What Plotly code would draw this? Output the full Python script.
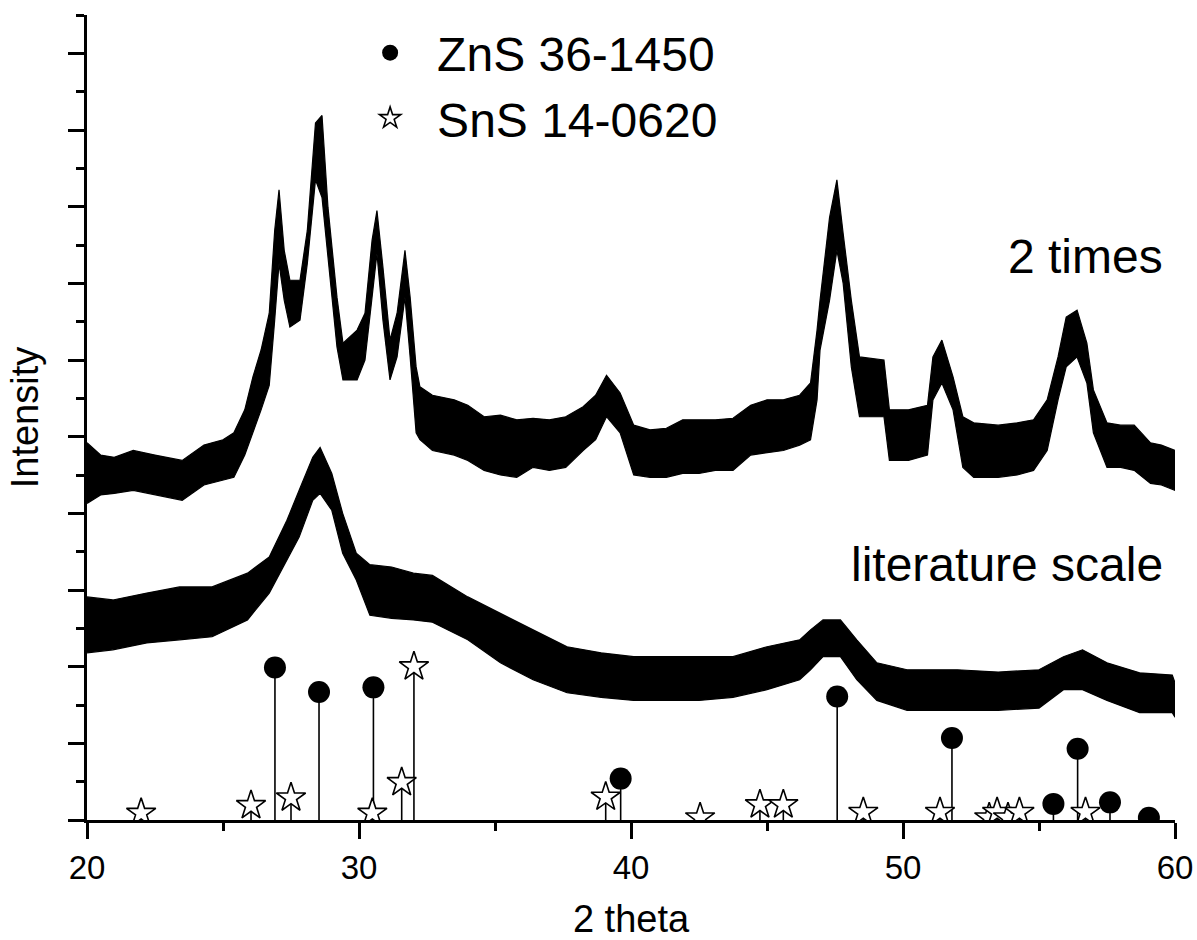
import plotly.graph_objects as go

# ---------------- data (intensity in arbitrary counts) ----------------
# "2 times" pattern: upper / lower edge of the noisy band
two_x = [20.0, 20.5, 21.0, 21.7, 22.5, 23.5, 24.3, 25.0, 25.4, 25.8, 26.1, 26.4, 26.7, 26.9,
         27.06, 27.25, 27.46, 27.83, 28.1, 28.4, 28.64, 28.86, 29.19, 29.41, 29.93, 30.22,
         30.48, 30.66, 30.88, 31.14, 31.4, 31.69, 31.88, 32.1, 32.24, 32.7, 33.5, 34.0, 34.6,
         35.2, 35.8, 36.4, 37.0, 37.6, 38.24, 38.7, 39.1, 39.6, 40.1, 40.7, 41.3, 41.9, 42.5,
         43.1, 43.75, 44.4, 45.0, 45.6, 46.2, 46.6, 46.84, 46.95, 47.3, 47.57, 47.8, 48.1,
         48.4, 49.3, 49.5, 50.2, 50.9, 51.1, 51.43, 51.84, 52.2, 52.6, 53.5, 54.2, 54.8, 55.3,
         55.7, 56.0, 56.4, 56.76, 57.0, 57.5, 58.0, 58.5, 59.1, 59.5, 60.0]
two_hi = [492, 476, 473, 482, 476, 469, 489, 496, 505, 535, 578, 613, 661, 769,
          822, 743, 704, 704, 769, 909, 919, 799, 682, 622, 639, 661,
          756, 795, 721, 626, 661, 743, 682, 591, 565, 554, 548, 541, 526,
          528, 522, 524, 522, 526, 539, 554, 580, 557, 515, 509, 511, 522, 522,
          522, 524, 541, 548, 548, 554, 570, 639, 678, 786, 835, 765, 678,
          604, 600, 535, 535, 541, 604, 626, 578, 526, 518, 515, 518, 522, 548,
          604, 656, 665, 622, 561, 518, 515, 515, 492, 489, 482]
two_lo = [413, 424, 426, 430, 424, 417, 437, 443, 447, 476, 505, 535, 567, 652,
          726, 678, 643, 652, 726, 835, 812, 739, 617, 574, 574, 600,
          682, 739, 652, 574, 604, 682, 604, 505, 496, 482, 476, 469, 456,
          450, 447, 460, 456, 460, 482, 496, 526, 505, 450, 447, 447, 452, 452,
          456, 456, 476, 479, 482, 489, 496, 548, 613, 678, 743, 700, 591,
          526, 526, 469, 469, 476, 548, 570, 535, 460, 447, 447, 450, 456, 482,
          548, 591, 604, 570, 505, 460, 460, 456, 439, 437, 430]

# "literature scale" pattern: upper / lower edge of the noisy band
lit_x = [20.0, 20.95, 22.2, 23.4, 24.6, 25.9, 26.7, 27.35, 27.8, 28.3, 28.57, 29.0, 29.4,
         29.9, 30.4, 31.2, 32.0, 32.7, 34.0, 35.2, 36.4, 37.65, 38.9, 40.1, 41.3, 42.5,
         43.75, 45.0, 46.2, 46.6, 47.06, 47.7, 48.3, 49.04, 50.15, 52.0, 53.5, 55.0, 55.9,
         56.6, 57.5, 58.7, 59.9, 60.0]
lit_hi = [291, 287, 296, 304, 304, 322, 343, 391, 430, 473, 486, 452, 400,
          348, 333, 330, 322, 319, 291, 270, 248, 226, 218, 213, 213, 213,
          213, 226, 235, 248, 261, 261, 235, 205, 196, 196, 193, 196, 213,
          222, 205, 192, 189, 179]
lit_lo = [218, 222, 231, 235, 239, 261, 296, 339, 369, 417, 426, 404, 348,
          313, 267, 263, 261, 258, 235, 205, 183, 166, 160, 156, 156, 156,
          160, 170, 183, 196, 213, 213, 183, 156, 143, 143, 143, 146, 170,
          170, 156, 140, 140, 134]

# reference patterns
zns_label = "ZnS 36-1450"
zns_pos = [26.91, 28.53, 30.53, 39.62, 47.58, 51.8, 55.53, 56.42, 57.61, 59.04]
zns_int = [199, 167, 173, 54, 161, 107, 21, 93, 23, 3]

sns_label = "SnS 14-0620"
sns_pos = [21.99, 26.03, 27.5, 30.49, 31.57, 32.02, 39.07, 42.54, 44.74, 45.6,
           48.54, 51.36, 53.17, 53.46, 53.86, 54.28, 56.71]
sns_int = [9, 19, 29, 9, 49, 200, 30, 3, 20, 20, 10, 10, 3, 10, 3, 10, 10]

x_title = "2 theta"
y_title = "Intensity"
curve_labels = ["2 times", "literature scale"]

# ---------------- figure ----------------
FONT = "Arial, Liberation Sans, sans-serif"
fig = go.Figure()


def band(xs, hi, lo):
    return go.Scatter(
        x=list(xs) + list(xs)[::-1],
        y=list(hi) + list(lo)[::-1],
        mode="lines", fill="toself", fillcolor="black",
        line=dict(color="black", width=1.2), showlegend=False, hoverinfo="skip")


fig.add_trace(band(lit_x, lit_hi, lit_lo))
fig.add_trace(band(two_x, two_hi, two_lo))

fig.add_trace(go.Scatter(
    x=zns_pos, y=zns_int, mode="markers", name=zns_label,
    marker=dict(symbol="circle", size=22, color="black", line=dict(width=0)),
    error_y=dict(type="data", symmetric=False, array=[0] * len(zns_int),
                 arrayminus=zns_int, width=0, thickness=1.6, color="black")))
fig.add_trace(go.Scatter(
    x=sns_pos, y=sns_int, mode="markers", name=sns_label,
    marker=dict(symbol="star", size=22, color="white", line=dict(width=1.6, color="black")),
    error_y=dict(type="data", symmetric=False, array=[0] * len(sns_int),
                 arrayminus=sns_int, width=0, thickness=1.6, color="black")))

fig.add_annotation(x=59.63, y=735, text=curve_labels[0], showarrow=False,
                   xanchor="right", yanchor="middle", font=dict(size=48, family=FONT, color="black"))
fig.add_annotation(x=59.63, y=333, text=curve_labels[1], showarrow=False,
                   xanchor="right", yanchor="middle", font=dict(size=48, family=FONT, color="black"))

fig.update_layout(
    width=1197, height=940,
    margin=dict(l=87, r=22, t=15, b=120, autoexpand=False),
    paper_bgcolor="white", plot_bgcolor="white",
    font=dict(family=FONT, color="black"),
    legend=dict(x=0.2354, y=1.0, xanchor="left", yanchor="top",
                font=dict(size=48, family=FONT, color="black"),
                bgcolor="rgba(0,0,0,0)", itemwidth=84, tracegroupgap=0),
)
fig.update_xaxes(
    range=[20, 60], showgrid=False, zeroline=False, automargin=False,
    showline=True, linecolor="black", linewidth=3,
    ticks="outside", tickwidth=3, ticklen=16, tickcolor="black",
    dtick=10, tick0=20, tickfont=dict(size=33, family=FONT, color="black"),
    minor=dict(ticks="outside", dtick=5, ticklen=8, tickwidth=3, tickcolor="black"),
    title=dict(text=x_title, font=dict(size=38, family=FONT, color="black"), standoff=26),
)
fig.update_yaxes(
    range=[0, 1050], showgrid=False, zeroline=False, automargin=False,
    showline=True, linecolor="black", linewidth=3,
    ticks="outside", tickwidth=3, ticklen=16, tickcolor="black",
    dtick=100, tick0=0, showticklabels=False,
    minor=dict(ticks="outside", dtick=50, ticklen=8, tickwidth=3, tickcolor="black"),
    title=dict(text=y_title, font=dict(size=38, family=FONT, color="black"), standoff=18),
)

post = (
    "document.documentElement.style.margin='0';"
    "document.body.style.margin='0';"
    "document.body.style.overflow='hidden';"
    "document.documentElement.style.overflow='hidden';"
    "var gd=document.querySelector('.plotly-graph-div');"
    "gd.style.position='fixed';gd.style.left='0px';gd.style.top='0px';"
)
fig.write_html("out.html", config={"displayModeBar": False}, post_script=post)
